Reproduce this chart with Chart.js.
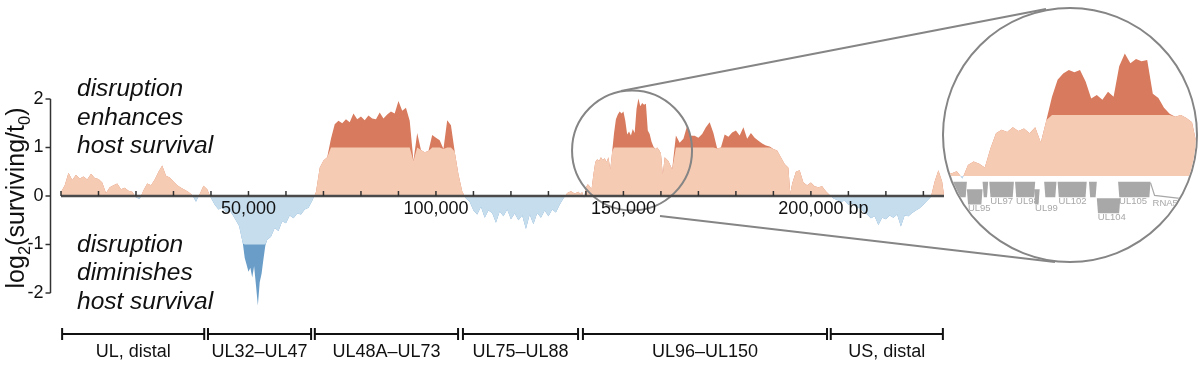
<!DOCTYPE html>
<html>
<head>
<meta charset="utf-8">
<title>Transposon screen, log2 survival across the genome</title>
<script src="https://cdn.jsdelivr.net/npm/chart.js@4.4.1/dist/chart.umd.min.js"></script>
<style>
  html, body { margin: 0; padding: 0; background: #fff; }
  #wrap { position: relative; width: 1200px; height: 365px; overflow: hidden; }
  #main { position: absolute; left: 0; top: 0; }
  #lens { position: absolute; left: 942px; top: 7px; width: 256px; height: 256px; box-sizing: border-box;
          border: 2px solid #858585; border-radius: 50%; overflow: hidden; background: #fff; }
  #zoom { position: absolute; left: 0; top: 0; }
</style>
</head>
<body>
<div id="wrap">
  <canvas id="main" width="1200" height="365"></canvas>
  <div id="lens"><canvas id="zoom" width="252" height="252"></canvas></div>
</div>
<script>
// genome position (kb) and log2(surviving/t0)
var posKb = [
  0, 1, 2, 3, 4, 5, 6, 7, 8, 9,
  10, 11, 12, 13, 14, 15, 16, 17, 18, 19,
  20, 21, 22, 23, 24, 25, 26, 27, 28, 29,
  30, 31, 32, 33, 34, 35, 36, 37, 38, 39,
  40, 41, 42, 43, 44, 45, 46, 47,
  47.5, 48, 48.5, 49, 49.5, 50, 50.5, 51, 51.5, 52,
  52.5, 53, 53.5, 54, 54.5, 55,
  56, 57, 58, 59, 60, 61, 62, 63, 64, 65,
  66, 67, 68, 69, 70, 71, 72, 73, 74, 75,
  76, 77, 78, 79, 80, 81, 82, 83, 84, 85,
  86, 87, 88, 89, 90, 91, 92, 93, 94, 95,
  96, 97, 98, 99, 100, 101, 102, 103, 104, 105,
  106, 107, 108, 109, 110, 111, 112, 113, 114, 115,
  116, 117, 118, 119, 120, 121, 122, 123, 124, 125,
  126, 127, 128, 129, 130, 131, 132, 133, 134, 135,
  136, 137,
  138, 138.5, 139, 139.5, 140, 140.5, 141, 141.5, 142, 142.5,
  143, 143.5, 144, 144.5, 145, 145.5, 146, 146.5, 147, 147.5,
  148, 148.5, 149, 149.5, 150, 150.5, 151, 151.5, 152, 152.5,
  153, 153.5, 154, 154.5, 155, 155.5, 156, 156.5, 157, 157.5,
  158, 158.5, 159, 159.5, 160, 160.5,
  161, 162, 163, 164, 165, 166, 167, 168, 169, 170,
  171, 172, 173, 174, 175, 176, 177, 178, 179, 180,
  181, 182, 183, 184, 185, 186, 187, 188, 189, 190,
  191, 192, 193, 194, 194.5,
  195, 196, 197, 198, 199, 200, 201, 202, 203, 204,
  205, 206, 207, 208, 209, 210, 211, 212, 213, 214,
  215, 216, 217, 218, 219, 220, 221, 222, 223, 224,
  225, 226, 227, 228, 229, 230, 231, 232, 233, 234,
  235, 235.5
];
var log2Val = [
  0.08, 0.22, 0.48, 0.33, 0.44, 0.36, 0.40, 0.34, 0.46, 0.37,
  0.35, 0.28, 0.06, 0.18, 0.22, 0.26, 0.14, 0.17, 0.11, 0.09,
  -0.03, -0.06, 0.12, 0.26, 0.22, 0.34, 0.50, 0.63, 0.42, 0.38,
  0.30, 0.22, 0.17, 0.13, 0.08, 0.02, -0.12, 0.04, 0.21, 0.14,
  -0.04, -0.18, -0.28, -0.24, -0.33, -0.30, -0.42, -0.55,
  -0.62, -0.80, -0.98, -1.28, -1.42, -1.56, -1.48, -1.68, -1.45, -1.84,
  -2.26, -1.78, -1.60, -1.30, -1.02, -0.90,
  -0.84, -0.66, -0.72, -0.52, -0.56, -0.40, -0.46, -0.36, -0.38, -0.28,
  -0.24, -0.10, 0.08, 0.58, 0.73, 0.80, 1.18, 1.48, 1.55, 1.50,
  1.58, 1.52, 1.70, 1.58, 1.64, 1.56, 1.66, 1.60, 1.58, 1.72,
  1.60, 1.68, 1.74, 1.70, 1.96, 1.76, 1.82, 1.55, 0.72, 1.30,
  0.95, 0.90, 0.93, 1.26, 1.20, 1.15, 0.97, 1.56, 1.46, 0.92,
  0.45, 0.10, -0.05, -0.12, -0.30, -0.38, -0.22, -0.45, -0.30, -0.35,
  -0.55, -0.32, -0.42, -0.28, -0.48, -0.36, -0.50, -0.40, -0.68, -0.38,
  -0.58, -0.35, -0.45, -0.30, -0.42, -0.28, -0.34, -0.18, -0.05, 0.06,
  0.10, 0.05,
  0.09, 0.04, 0.08, -0.04, 0.18, 0.24, 0.20, 0.14, 0.45, 0.70,
  0.76, 0.72, 0.80, 0.74, 0.78, 0.70, 0.80, 0.55, 0.92, 1.30,
  1.58, 1.68, 1.74, 1.70, 1.74, 1.55, 1.27, 1.33, 1.25, 1.38,
  1.30, 1.80, 2.01, 1.85, 1.92, 1.88, 1.90, 1.35, 1.28, 1.12,
  1.02, 0.97, 1.00, 0.95, 0.88, 0.45,
  0.80, 0.72, 0.55, 1.25, 1.10, 1.18, 1.45, 1.24, 1.24, 1.20,
  1.28, 1.42, 1.52, 1.30, 0.98, 1.00, 1.27, 1.22, 1.31, 1.35,
  1.25, 1.42, 1.18, 1.30, 1.20, 1.14, 1.08, 1.04, 1.02, 0.97,
  0.94, 0.80, 0.66, 0.58, 0.05,
  0.26, 0.50, 0.53, 0.28, 0.22, 0.28, 0.20, 0.18, 0.20, 0.10,
  0.02, -0.05, -0.08, -0.12, -0.10, -0.18, -0.15, -0.22, -0.25, -0.32,
  -0.38, -0.46, -0.42, -0.60, -0.45, -0.48, -0.40, -0.45, -0.38, -0.63,
  -0.40, -0.42, -0.35, -0.30, -0.25, -0.18, -0.10, -0.02, 0.30, 0.53,
  0.30, 0.02
];
var genomeLenKb = 235.5;

// axis ticks
var yTickVals = [2, 1, 0, -1, -2];
var xTickKb = [50, 100, 150, 200];
var xTickText = ['50,000', '100,000', '150,000', '200,000'];
var xUnit = 'bp';

// gene blocks under the axis
var regionName = ['UL, distal', 'UL32\u2013UL47', 'UL48A\u2013UL73', 'UL75\u2013UL88', 'UL96\u2013UL150', 'US, distal'];
var regionStartKb = [0.3, 39.2, 67.7, 107.2, 139.2, 205.3];
var regionEndKb = [38.2, 66.7, 105.9, 137.9, 204.3, 235.2];

// genes shown in the magnified view
var geneName = ['', 'UL95', '', 'UL97', 'UL98', 'UL99', '', 'UL102', '', 'UL104', 'UL105', 'RNA5'];
var geneStartKb = [138.3, 139.9, 141.3, 141.9, 144.2, 145.9, 146.8, 148.0, 150.8, 151.5, 153.4, 156.3];
var geneEndKb = [139.9, 141.3, 141.8, 144.1, 146.0, 146.4, 147.9, 150.6, 151.5, 153.6, 156.3, 158.9];
var geneLane = [0, 1, 0, 0, 0, 1, 0, 0, 0, 2, 0, 0];
var geneType = ['orf', 'orf', 'orf', 'orf', 'orf', 'orf', 'orf', 'orf', 'orf', 'orf', 'orf', 'rna'];

var FONT = '"Liberation Sans", Arial, Helvetica, sans-serif';
var LIGHT_RED = '#f6cbb3';
var DARK_RED = '#d77a5d';
var LIGHT_BLUE = '#c6ddee';
var DARK_BLUE = '#6a9ec9';

function points(clipped) {
  return posKb.map(function (p, i) {
    var v = log2Val[i];
    if (clipped) v = Math.max(-1, Math.min(1, v));
    return { x: p * 1000, y: v };
  });
}

function areaDatasets() {
  // first one (clipped at +-1, pale) is drawn on top of the full one (dark)
  return [
    { data: points(true), fill: { target: 'origin', above: LIGHT_RED, below: LIGHT_BLUE },
      borderColor: 'rgba(0,0,0,0)', borderWidth: 0, pointRadius: 0, tension: 0, clip: false },
    { data: points(false), fill: { target: 'origin', above: DARK_RED, below: DARK_BLUE },
      borderColor: 'rgba(0,0,0,0)', borderWidth: 0, pointRadius: 0, tension: 0, clip: false }
  ];
}

function drawRich(ctx, parts, size) {
  var total = 0;
  parts.forEach(function (p) {
    ctx.font = (p[1] ? size * 0.66 : size) + 'px ' + FONT;
    total += ctx.measureText(p[0]).width;
  });
  var cx = -total / 2;
  parts.forEach(function (p) {
    ctx.font = (p[1] ? size * 0.66 : size) + 'px ' + FONT;
    ctx.fillText(p[0], cx, p[1] ? size * 0.24 : 0);
    cx += ctx.measureText(p[0]).width;
  });
}

var mainAxes = {
  id: 'mainAxes',
  afterDatasetsDraw: function (chart) {
    var ctx = chart.ctx;
    var xs = chart.scales.x, ys = chart.scales.y;
    var yb = ys.getPixelForValue(0);
    var xa = xs.getPixelForValue(0), xe = xs.getPixelForValue(genomeLenKb * 1000);
    ctx.save();

    // magnifier ring and guide lines to the lens
    ctx.strokeStyle = '#858585';
    ctx.lineWidth = 2;
    ctx.beginPath();
    ctx.arc(xs.getPixelForValue(152300), ys.getPixelForValue(0.94), 60, 0, Math.PI * 2);
    ctx.stroke();
    ctx.beginPath();
    ctx.moveTo(621, 91); ctx.lineTo(1046, 9);
    ctx.moveTo(660, 216); ctx.lineTo(1055, 262);
    ctx.stroke();

    // genome axis
    ctx.strokeStyle = '#4a4a4a';
    ctx.lineWidth = 2.5;
    ctx.beginPath(); ctx.moveTo(xa, yb); ctx.lineTo(xe, yb); ctx.stroke();
    ctx.lineWidth = 1.5;
    ctx.strokeStyle = '#333';
    for (var k = 0; k <= 230; k += 10) {
      var tx = xs.getPixelForValue(k * 1000);
      ctx.beginPath(); ctx.moveTo(tx, yb - 5); ctx.lineTo(tx, yb); ctx.stroke();
    }
    ctx.fillStyle = '#111';
    ctx.font = '18px ' + FONT;
    ctx.textAlign = 'left';
    ctx.textBaseline = 'alphabetic';
    xTickKb.forEach(function (kb, i) {
      var px = xs.getPixelForValue(kb * 1000);
      var w = ctx.measureText(xTickText[i]).width;
      ctx.fillText(xTickText[i], px - w / 2, yb + 17.5);
      if (i === xTickKb.length - 1) ctx.fillText(' ' + xUnit, px + w / 2, yb + 17.5);
    });

    // y axis
    var ax = 50.5;
    ctx.strokeStyle = '#333';
    ctx.lineWidth = 1.5;
    ctx.beginPath();
    ctx.moveTo(ax, ys.getPixelForValue(2)); ctx.lineTo(ax, ys.getPixelForValue(-2));
    ctx.stroke();
    ctx.textAlign = 'right';
    ctx.textBaseline = 'middle';
    yTickVals.forEach(function (v) {
      var py = ys.getPixelForValue(v);
      ctx.beginPath(); ctx.moveTo(ax - 5, py); ctx.lineTo(ax, py); ctx.stroke();
      ctx.fillText(String(v), ax - 7, py);
    });

    // y title with subscripts
    ctx.save();
    ctx.translate(24, 198);
    ctx.rotate(-Math.PI / 2);
    ctx.textAlign = 'left';
    ctx.textBaseline = 'alphabetic';
    drawRich(ctx, [['log', false], ['2', true], ['(surviving/t', false], ['0', true], [')', false]], 25);
    ctx.restore();

    // annotations
    ctx.textAlign = 'left';
    ctx.textBaseline = 'alphabetic';
    ctx.font = 'italic 24.5px ' + FONT;
    ['disruption', 'enhances', 'host survival'].forEach(function (t, i) { ctx.fillText(t, 77, 96 + i * 28.7); });
    ['disruption', 'diminishes', 'host survival'].forEach(function (t, i) { ctx.fillText(t, 77, 251.5 + i * 28.7); });

    // region brackets
    var by = 334;
    ctx.strokeStyle = '#111';
    ctx.lineWidth = 2;
    ctx.font = '18px ' + FONT;
    ctx.textAlign = 'center';
    ctx.textBaseline = 'middle';
    regionName.forEach(function (name, i) {
      var a = xs.getPixelForValue(regionStartKb[i] * 1000), b = xs.getPixelForValue(regionEndKb[i] * 1000);
      ctx.beginPath();
      ctx.moveTo(a, by - 6); ctx.lineTo(a, by + 6);
      ctx.moveTo(b, by - 6); ctx.lineTo(b, by + 6);
      ctx.moveTo(a, by); ctx.lineTo(b, by);
      ctx.stroke();
      ctx.fillText(name, (a + b) / 2, by + 18);
    });
    ctx.restore();
  }
};

var geneTrack = {
  id: 'geneTrack',
  afterDatasetsDraw: function (chart) {
    var ctx = chart.ctx;
    var xs = chart.scales.x, ys = chart.scales.y;
    var laneTop = [-0.095, -0.215, -0.365];
    var laneBot = [-0.35, -0.465, -0.612];
    ctx.save();
    ctx.fillStyle = '#a8a8a8';
    ctx.strokeStyle = '#a8a8a8';
    ctx.font = '9.5px ' + FONT;
    ctx.textAlign = 'left';
    ctx.textBaseline = 'alphabetic';
    geneName.forEach(function (name, i) {
      var a = xs.getPixelForValue(geneStartKb[i] * 1000), b = xs.getPixelForValue(geneEndKb[i] * 1000);
      var t = ys.getPixelForValue(laneTop[geneLane[i]]), u = ys.getPixelForValue(laneBot[geneLane[i]]);
      if (geneType[i] === 'rna') {
        ctx.lineWidth = 1.2;
        ctx.beginPath();
        ctx.moveTo(a, t + 1); ctx.lineTo(a + 4, u - 2); ctx.lineTo(b, u + 1);
        ctx.stroke();
        ctx.fillText(name, a + 2, u + 9);
        return;
      }
      ctx.beginPath();
      ctx.moveTo(a, t); ctx.lineTo(b, t); ctx.lineTo(b - 1.2, u); ctx.lineTo(a + 1.2, u);
      ctx.closePath();
      ctx.fill();
      if (name) ctx.fillText(name, a + 1, u + 7);
    });
    ctx.restore();
  }
};

var mainChart = new Chart(document.getElementById('main'), {
  type: 'line',
  data: { datasets: areaDatasets() },
  options: {
    responsive: false,
    animation: false,
    devicePixelRatio: 1,
    events: [],
    layout: { padding: { left: 61, right: 256, top: 89.3, bottom: 57.45 } },
    scales: {
      x: { type: 'linear', min: 0, max: genomeLenKb * 1000, display: false },
      y: { type: 'linear', min: -2.3, max: 2.2, display: false }
    },
    plugins: { legend: { display: false }, tooltip: { enabled: false } }
  },
  plugins: [mainAxes]
});

var zoomChart = new Chart(document.getElementById('zoom'), {
  type: 'line',
  data: { datasets: areaDatasets() },
  options: {
    responsive: false,
    animation: false,
    devicePixelRatio: 1,
    events: [],
    layout: { padding: 0 },
    scales: {
      x: { type: 'linear', min: 137857, max: 160357, display: false },
      y: { type: 'linear', min: -1.393, max: 2.738, display: false }
    },
    plugins: { legend: { display: false }, tooltip: { enabled: false } }
  },
  plugins: [geneTrack]
});
</script>
</body>
</html>
